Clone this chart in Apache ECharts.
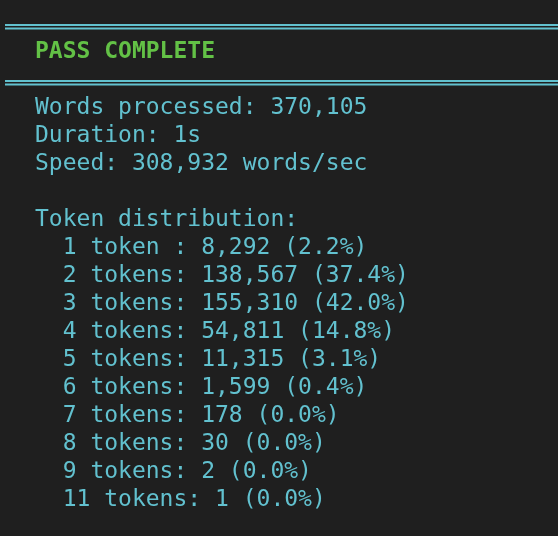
<!DOCTYPE html><html><head><meta charset="utf-8">
<script src="https://cdn.jsdelivr.net/npm/echarts@6/dist/echarts.min.js"></script>
<style>html,body{margin:0;background:#1f1f1f}#c{width:558px;height:536px}</style></head><body><div id="c"></div>
<script>
const title = "PASS COMPLETE";
const statLabels = ["Words processed", "Duration", "Speed"];
const statValues = ["370,105", "1s", "308,932 words/sec"];
const distHeader = "Token distribution:";
const tokenCounts = ["1 token ", "2 tokens", "3 tokens", "4 tokens", "5 tokens", "6 tokens", "7 tokens", "8 tokens", "9 tokens", "11 tokens"];
const wordCounts = ["8,292", "138,567", "155,310", "54,811", "11,315", "1,599", "178", "30", "2", "1"];
const percents = ["2.2%", "37.4%", "42.0%", "14.8%", "3.1%", "0.4%", "0.0%", "0.0%", "0.0%", "0.0%"];

const cyan = '#62c1cf', green = '#63c146', font = '"DejaVu Sans Mono", monospace';
const lines = [];
statLabels.forEach((l, i) => lines.push(l + ': ' + statValues[i]));
lines.push('');
lines.push(distHeader);
tokenCounts.forEach((t, i) => lines.push('  ' + t + ': ' + wordCounts[i] + ' (' + percents[i] + ')'));

const g = [];
[24, 80].forEach(y => {
  g.push({type:'rect', shape:{x:5, y:y, width:553, height:2}, style:{fill:cyan}});
  g.push({type:'rect', shape:{x:5, y:y+3.5, width:553, height:2}, style:{fill:cyan}});
});
g.push({type:'text', x:35, y:52, style:{text:title, fill:green, font:'bold 23px ' + font, textVerticalAlign:'middle'}});
lines.forEach((s, i) => {
  if (s) g.push({type:'text', x:35, y:108 + i*28, style:{text:s, fill:cyan, font:'23px ' + font, textVerticalAlign:'middle'}});
});
const chart = echarts.init(document.getElementById('c'));
chart.setOption({backgroundColor:'#1f1f1f', graphic:g});
</script></body></html>
